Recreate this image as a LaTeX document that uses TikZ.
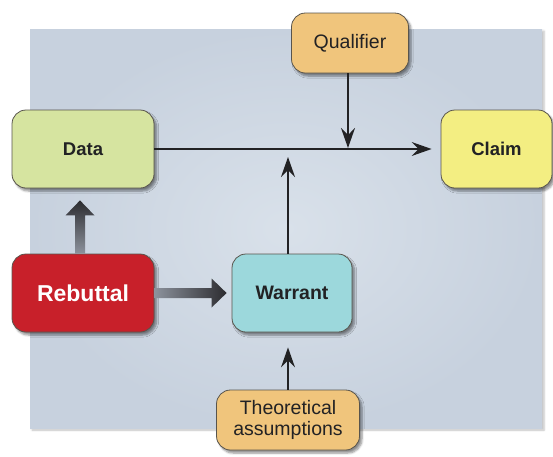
\documentclass[tikz,border=0pt]{standalone}
\usepackage{fontspec}
\setmainfont{Liberation Sans}
\usetikzlibrary{arrows.meta,shadows.blur,calc}
\definecolor{panelin}{RGB}{217,225,234}
\definecolor{panelout}{RGB}{199,209,222}
\definecolor{boxline}{RGB}{88,84,76}
\definecolor{arrowdark}{RGB}{34,34,36}
\definecolor{fatlight}{RGB}{140,146,156}
\definecolor{fatdark}{RGB}{44,44,48}
\definecolor{datagreen}{RGB}{214,228,160}
\definecolor{claimyellow}{RGB}{243,238,130}
\definecolor{qualorange}{RGB}{240,197,124}
\definecolor{rebred}{RGB}{200,32,42}
\definecolor{warcyan}{RGB}{156,216,220}

\begin{document}
\begin{tikzpicture}[x=1pt,y=-1pt,
  box/.style={rectangle,rounded corners=14pt,draw=boxline,line width=0.8pt,inner sep=0pt,align=center,text=arrowdark,
    blur shadow={shadow xshift=2.5pt,shadow yshift=-3pt,shadow blur steps=6,shadow opacity=45}},
  tall/.style={minimum height=78pt},
  flat/.style={minimum height=60pt},
  boldtext/.style={font=\fontsize{18.5}{22}\selectfont\bfseries},
  plaintext/.style={font=\fontsize{19.5}{20.5}\selectfont},
  edge/.style={line width=1.4pt,draw=arrowdark,-{Stealth[length=20pt,width=14pt,inset=7pt]}}]
\useasboundingbox (0,0) rectangle (553,456);
\shade[inner color=panelin,outer color=panelout,
  blur shadow={shadow xshift=2pt,shadow yshift=-2pt,shadow blur steps=5,shadow opacity=25}] (30,29) rectangle (542,428);

\node(qua)[box,flat,fill=qualorange,minimum width=117pt,plaintext] at (350,43) {Qualifier};
\node(dat)[box,tall,fill=datagreen,minimum width=142pt,boldtext] at (83,149) {Data};
\node(cla)[box,tall,fill=claimyellow,minimum width=111pt,boldtext] at (496.5,149) {Claim};
\node(reb)[box,tall,fill=rebred,minimum width=142pt,text=white,font=\fontsize{23}{26}\selectfont\bfseries] at (83,293) {Rebuttal};
\node(war)[box,tall,fill=warcyan,minimum width=120pt,font=\fontsize{19.5}{22}\selectfont\bfseries] at (292,293) {Warrant};
\node(the)[box,flat,fill=qualorange,minimum width=143pt,plaintext] at (288,420) {Theoretical\\assumptions};

\draw [edge] (dat.east) to ($(cla.west)+(-9,0)$);
\draw [edge] (qua.south -| 348,0) to (348,148);
\draw [edge] ($(war.north)+(-4,0)$) to ($(war.north |- dat.east)+(-4,8)$);
\draw [edge] (the.north) to ($(the.north |- war.south)+(0,15)$);

\coordinate (rtip) at ($(war.west)+(-5,0)$);
\shade[left color=fatlight,right color=fatdark]
  ($(reb.east)+(0,-5)$) -- ($(rtip)+(-15,-5)$) -- ($(rtip)+(-15,-14.5)$) -- (rtip)
  -- ($(rtip)+(-15,14.5)$) -- ($(rtip)+(-15,5)$) -- ($(reb.east)+(0,5)$) -- cycle;
\coordinate (dtip) at ($(dat.south)+(-3,12)$);
\shade[bottom color=fatlight,top color=fatdark]
  ($(reb.north)+(-8,0)$) -- ($(dtip)+(-5,15)$) -- ($(dtip)+(-14.5,15)$) -- (dtip)
  -- ($(dtip)+(14.5,15)$) -- ($(dtip)+(5,15)$) -- ($(reb.north)+(2,0)$) -- cycle;
\end{tikzpicture}
\end{document}
